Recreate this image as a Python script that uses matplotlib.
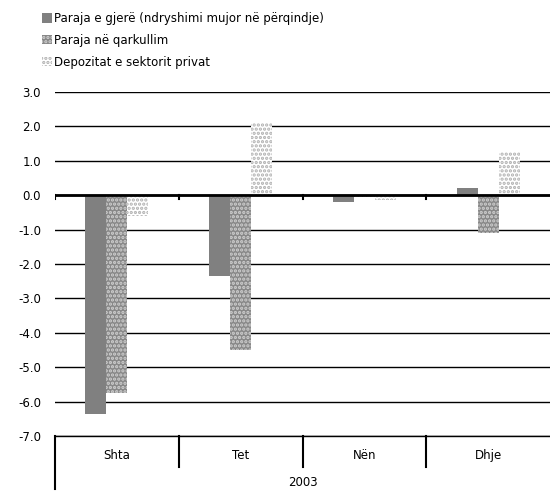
import matplotlib.pyplot as plt
import matplotlib.transforms as mtransforms
import numpy as np

plt.rcParams['hatch.linewidth'] = 1.6

months = ['Shta', 'Tet', 'Nën', 'Dhje']
year = '2003'
series_names = ['Paraja e gjerë (ndryshimi mujor në përqindje)',
                'Paraja në qarkullim',
                'Depozitat e sektorit privat']
paraja_gjere = [-6.35, -2.35, -0.2, 0.2]
paraja_qarkullim = [-5.75, -4.5, -0.05, -1.1]
depozitat = [-0.6, 2.1, -0.15, 1.25]
yticks = np.arange(-7, 3.01, 1)

fig = plt.figure(figsize=(5.5, 4.92), dpi=100)
ax = fig.add_axes([0.1, 0.1138, 0.9, 0.6992])

x = np.arange(len(months))
w = 0.17
ax.bar(x - w, paraja_gjere, w, color='#808080', edgecolor='#808080', lw=0, label=series_names[0], zorder=3)
ax.bar(x, paraja_qarkullim, w, color='#888888', edgecolor='#cfcfcf', hatch='....', lw=0, label=series_names[1], zorder=3)
ax.bar(x + w, depozitat, w, color='white', edgecolor='#b0b0b0', hatch='....', lw=0, label=series_names[2], zorder=3)

ax.set_xlim(-0.5, 3.5)
ax.set_ylim(-7, 3)
ax.set_yticks(yticks)
ax.set_yticklabels([f'{v:.1f}' for v in yticks], fontsize=8.5)
ax.tick_params(axis='y', length=0, pad=10)
ax.set_xticks([])
for v in yticks:
    ax.axhline(v, color='black', lw=1, zorder=1)
ax.axhline(0, color='black', lw=2, zorder=4)
for s in ax.spines.values():
    s.set_visible(False)

# small ticks on the zero line
for b in np.arange(-0.5, 3.0, 1):
    ax.plot([b, b], [0, -0.12], color='black', lw=1.5, zorder=4)

# category axis below the plot
tr = mtransforms.blended_transform_factory(ax.transData, ax.transAxes)
ax.plot([-0.5, 3.5], [0, 0], color='black', lw=1, transform=tr, clip_on=False)
ax.plot([-0.5, -0.5], [0, -0.155], color='black', lw=1.5, transform=tr, clip_on=False)
for b in [0.5, 1.5, 2.5]:
    ax.plot([b, b], [0, -0.09], color='black', lw=1.5, transform=tr, clip_on=False)
for i, m in enumerate(months):
    ax.text(i, -0.058, m, transform=tr, ha='center', va='center', fontsize=8.5)
ax.text(1.5, -0.136, year, transform=tr, ha='center', va='center', fontsize=8.5)

fig.legend(loc='upper left', bbox_to_anchor=(0.068, 0.985), frameon=False,
           fontsize=8.5, handlelength=0.8, handleheight=0.8, handletextpad=0.2,
           labelspacing=0.75, borderaxespad=0)

fig.savefig('out.png', dpi=100)
